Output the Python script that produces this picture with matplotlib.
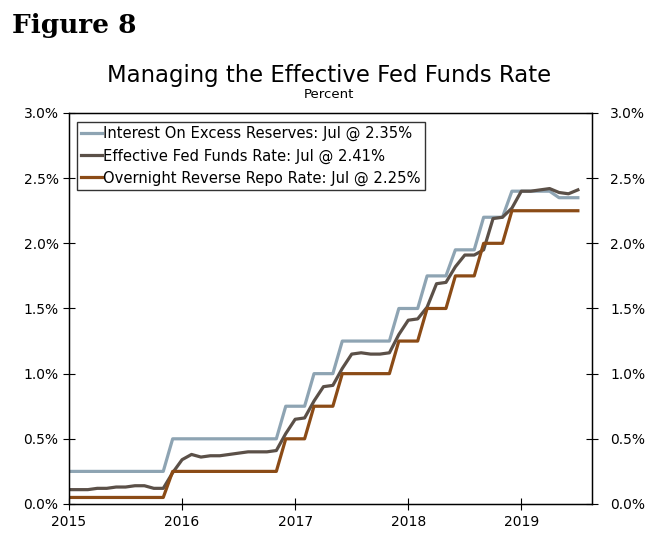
import numpy as np
import matplotlib
matplotlib.use('Agg')
import matplotlib.pyplot as plt
from matplotlib.ticker import FuncFormatter

# monthly data, Jan 2015 - Jul 2019
years = [2015, 2016, 2017, 2018, 2019]

# interest on excess reserves (end of month)
ioer = [0.25, 0.25, 0.25, 0.25, 0.25, 0.25, 0.25, 0.25, 0.25, 0.25, 0.25, 0.50,
        0.50, 0.50, 0.50, 0.50, 0.50, 0.50, 0.50, 0.50, 0.50, 0.50, 0.50, 0.75,
        0.75, 0.75, 1.00, 1.00, 1.00, 1.25, 1.25, 1.25, 1.25, 1.25, 1.25, 1.50,
        1.50, 1.50, 1.75, 1.75, 1.75, 1.95, 1.95, 1.95, 2.20, 2.20, 2.20, 2.40,
        2.40, 2.40, 2.40, 2.40, 2.35, 2.35, 2.35]

# effective fed funds rate (monthly average)
effr = [0.11, 0.11, 0.11, 0.12, 0.12, 0.13, 0.13, 0.14, 0.14, 0.12, 0.12, 0.24,
        0.34, 0.38, 0.36, 0.37, 0.37, 0.38, 0.39, 0.40, 0.40, 0.40, 0.41, 0.54,
        0.65, 0.66, 0.79, 0.90, 0.91, 1.04, 1.15, 1.16, 1.15, 1.15, 1.16, 1.30,
        1.41, 1.42, 1.51, 1.69, 1.70, 1.82, 1.91, 1.91, 1.95, 2.19, 2.20, 2.27,
        2.40, 2.40, 2.41, 2.42, 2.39, 2.38, 2.41]

# overnight reverse repo rate (end of month)
onrrp = [0.05, 0.05, 0.05, 0.05, 0.05, 0.05, 0.05, 0.05, 0.05, 0.05, 0.05, 0.25,
         0.25, 0.25, 0.25, 0.25, 0.25, 0.25, 0.25, 0.25, 0.25, 0.25, 0.25, 0.50,
         0.50, 0.50, 0.75, 0.75, 0.75, 1.00, 1.00, 1.00, 1.00, 1.00, 1.00, 1.25,
         1.25, 1.25, 1.50, 1.50, 1.50, 1.75, 1.75, 1.75, 2.00, 2.00, 2.00, 2.25,
         2.25, 2.25, 2.25, 2.25, 2.25, 2.25, 2.25]

labels = ['Interest On Excess Reserves: Jul @ 2.35%',
          'Effective Fed Funds Rate: Jul @ 2.41%',
          'Overnight Reverse Repo Rate: Jul @ 2.25%']
colors = ['#8EA4B3', '#5B5048', '#8B4B16']

x = 2015 + np.arange(len(effr)) / 12.0

fig = plt.figure(figsize=(6.58, 5.37), dpi=100)
ax = fig.add_axes([0.1049, 0.0615, 0.7948, 0.7281])

ax.plot(x, ioer, color=colors[0], lw=2.3, label=labels[0])
ax.plot(x, effr, color=colors[1], lw=2.3, label=labels[1])
ax.plot(x, onrrp, color=colors[2], lw=2.3, label=labels[2])

ax.set_xlim(2015, 2019.625)
ax.set_ylim(0, 3.0)
ax.set_xticks(years)
ax.set_xticklabels([str(y) for y in years])
ax.set_yticks(np.arange(0, 3.01, 0.5))
ax.yaxis.set_major_formatter(FuncFormatter(lambda v, p: '%.1f%%' % v))

for s in ax.spines.values():
    s.set_color('black')
    s.set_linewidth(1.0)

ax.tick_params(axis='x', direction='inout', length=8, labelsize=10, pad=4)
ax.tick_params(axis='y', direction='inout', length=8, labelsize=10)

# right axis duplicate labels
ax2 = ax.twinx()
ax2.set_ylim(ax.get_ylim())
ax2.set_yticks(np.arange(0, 3.01, 0.5))
ax2.yaxis.set_major_formatter(FuncFormatter(lambda v, p: '%.1f%%' % v))
ax2.tick_params(axis='y', direction='inout', length=8, labelsize=10, pad=9)

leg = ax.legend(loc='upper left', bbox_to_anchor=(0.015, 0.977), fontsize=10.6,
                frameon=True, fancybox=False, handlelength=1.4, handletextpad=0.1,
                labelspacing=0.48, borderpad=0.28, borderaxespad=0)
leg.get_frame().set_edgecolor('black')
leg.get_frame().set_linewidth(1.0)

fig.text(0.018, 0.9385, 'Figure 8', fontsize=19, fontweight='bold',
         family='DejaVu Serif', ha='left', va='baseline')
fig.text(0.5, 0.848, 'Managing the Effective Fed Funds Rate', fontsize=16.4,
         ha='center', va='baseline')
fig.text(0.5, 0.818, 'Percent', fontsize=9.5, ha='center', va='baseline')

fig.savefig('out.png', dpi=100)
